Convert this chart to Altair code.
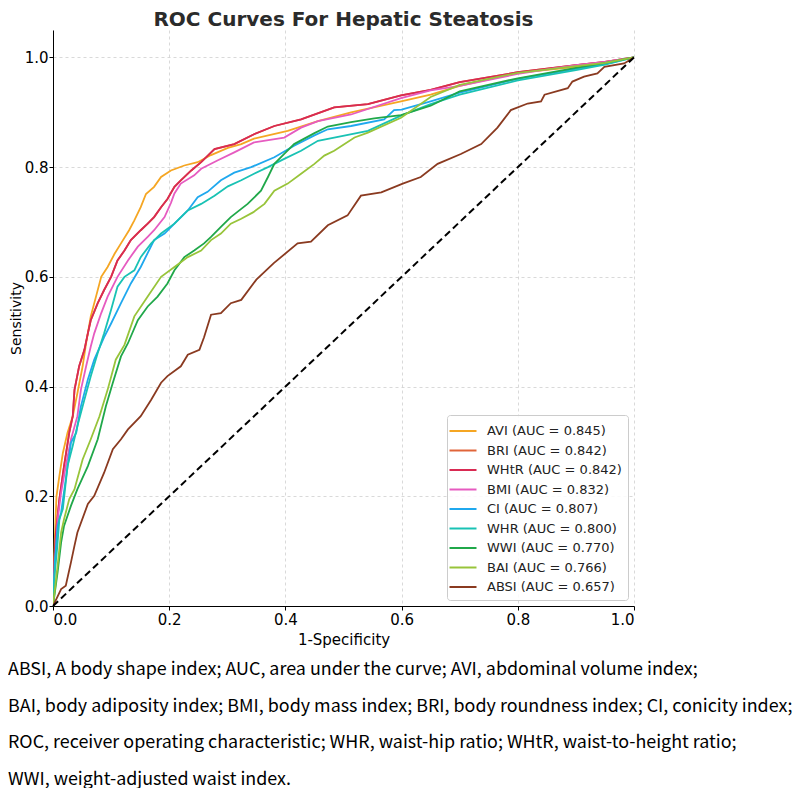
import altair as alt
import pandas as pd

series_names = ["AVI", "BRI", "WHtR", "BMI", "CI", "WHR", "WWI", "BAI", "ABSI"]
auc_values = [0.845, 0.842, 0.842, 0.832, 0.807, 0.800, 0.770, 0.766, 0.657]
series_colors = ["#f5a623", "#e0653a", "#d92a52", "#e65bc0", "#1fa8ee",
                 "#19c2b4", "#20a84a", "#98c43a", "#8a3a20"]

# (1-specificity, sensitivity) points
avi_pts = [(0, 0), (0.003, 0.12), (0.006, 0.20), (0.011, 0.237), (0.017, 0.279), (0.025, 0.316),
           (0.034, 0.346), (0.042, 0.388), (0.051, 0.437), (0.057, 0.479), (0.065, 0.528),
           (0.074, 0.564), (0.083, 0.600), (0.094, 0.618), (0.106, 0.642), (0.117, 0.661),
           (0.131, 0.685), (0.140, 0.703), (0.151, 0.727), (0.160, 0.751), (0.174, 0.764),
           (0.186, 0.782), (0.203, 0.794), (0.226, 0.803), (0.249, 0.809), (0.272, 0.822),
           (0.301, 0.835), (0.324, 0.842), (0.346, 0.852), (0.404, 0.866), (0.456, 0.884),
           (0.513, 0.900), (0.599, 0.920), (0.65, 0.932), (0.70, 0.948), (0.80, 0.972),
           (0.90, 0.983), (0.95, 0.990), (1.0, 1.0)]

whtr_pts = [(0, 0), (0.002, 0.074), (0.005, 0.134), (0.011, 0.195), (0.019, 0.255), (0.028, 0.316),
            (0.034, 0.346), (0.037, 0.394), (0.045, 0.437), (0.054, 0.467), (0.060, 0.497),
            (0.065, 0.521), (0.077, 0.552), (0.088, 0.576), (0.100, 0.600), (0.111, 0.630),
            (0.123, 0.648), (0.134, 0.667), (0.151, 0.685), (0.163, 0.697), (0.174, 0.709),
            (0.186, 0.727), (0.197, 0.742), (0.209, 0.764), (0.220, 0.776), (0.238, 0.794),
            (0.255, 0.809), (0.278, 0.833), (0.312, 0.842), (0.346, 0.860), (0.381, 0.875),
            (0.427, 0.887), (0.484, 0.909), (0.542, 0.915), (0.599, 0.931), (0.65, 0.941),
            (0.70, 0.955), (0.80, 0.973), (0.90, 0.986), (0.95, 0.992), (1.0, 1.0)]

bri_pts = whtr_pts  # BRI curve lies exactly under the WHtR curve

bmi_pts = [(0, 0), (0.002, 0.05), (0.005, 0.098), (0.008, 0.158), (0.014, 0.207), (0.022, 0.255),
           (0.031, 0.304), (0.042, 0.346), (0.048, 0.394), (0.057, 0.437), (0.065, 0.473),
           (0.071, 0.497), (0.083, 0.534), (0.094, 0.564), (0.111, 0.600), (0.129, 0.630),
           (0.146, 0.655), (0.163, 0.673), (0.174, 0.685), (0.192, 0.709), (0.203, 0.735),
           (0.209, 0.752), (0.220, 0.770), (0.243, 0.785), (0.255, 0.797), (0.283, 0.812),
           (0.312, 0.827), (0.346, 0.845), (0.398, 0.854), (0.427, 0.872), (0.456, 0.884),
           (0.513, 0.896), (0.599, 0.926), (0.65, 0.940), (0.70, 0.948), (0.80, 0.970),
           (0.90, 0.986), (0.95, 0.992), (1.0, 1.0)]

ci_pts = [(0, 0), (0.003, 0.08), (0.008, 0.146), (0.014, 0.171), (0.022, 0.231), (0.031, 0.298),
          (0.040, 0.316), (0.048, 0.364), (0.060, 0.413), (0.071, 0.449), (0.088, 0.490),
          (0.100, 0.515), (0.117, 0.552), (0.134, 0.588), (0.151, 0.618), (0.174, 0.667),
          (0.192, 0.679), (0.209, 0.697), (0.232, 0.721), (0.249, 0.745), (0.266, 0.755),
          (0.289, 0.776), (0.312, 0.790), (0.341, 0.800), (0.381, 0.818), (0.415, 0.839),
          (0.450, 0.858), (0.473, 0.869), (0.513, 0.875), (0.570, 0.887), (0.587, 0.904),
          (0.60, 0.905), (0.65, 0.920), (0.70, 0.936), (0.80, 0.961), (0.90, 0.979),
          (0.95, 0.988), (1.0, 1.0)]

whr_pts = [(0, 0), (0.003, 0.06), (0.007, 0.104), (0.011, 0.158), (0.017, 0.177), (0.025, 0.255),
           (0.034, 0.292), (0.042, 0.328), (0.054, 0.376), (0.065, 0.419), (0.077, 0.461),
           (0.088, 0.497), (0.100, 0.540), (0.111, 0.582), (0.123, 0.600), (0.140, 0.612),
           (0.151, 0.636), (0.169, 0.661), (0.186, 0.679), (0.209, 0.697), (0.232, 0.721),
           (0.255, 0.733), (0.278, 0.748), (0.301, 0.765), (0.324, 0.776), (0.346, 0.788),
           (0.370, 0.800), (0.398, 0.815), (0.427, 0.830), (0.456, 0.848), (0.484, 0.854),
           (0.542, 0.866), (0.599, 0.894), (0.65, 0.915), (0.70, 0.932), (0.80, 0.958),
           (0.90, 0.977), (0.95, 0.987), (1.0, 1.0)]

wwi_pts = [(0, 0), (0.008, 0.062), (0.014, 0.116), (0.019, 0.146), (0.031, 0.183), (0.042, 0.213),
           (0.060, 0.255), (0.077, 0.304), (0.091, 0.364), (0.103, 0.407), (0.117, 0.455),
           (0.129, 0.479), (0.146, 0.521), (0.163, 0.546), (0.180, 0.564), (0.197, 0.588),
           (0.209, 0.612), (0.226, 0.636), (0.243, 0.648), (0.260, 0.661), (0.272, 0.673),
           (0.289, 0.691), (0.306, 0.709), (0.324, 0.724), (0.335, 0.733), (0.358, 0.757),
           (0.370, 0.782), (0.381, 0.806), (0.398, 0.824), (0.415, 0.842), (0.450, 0.862),
           (0.473, 0.874), (0.513, 0.882), (0.553, 0.889), (0.599, 0.895), (0.65, 0.912),
           (0.70, 0.938), (0.80, 0.962), (0.90, 0.981), (0.95, 0.990), (1.0, 1.0)]

bai_pts = [(0, 0), (0.008, 0.074), (0.014, 0.134), (0.019, 0.158), (0.028, 0.195), (0.037, 0.213),
           (0.051, 0.267), (0.065, 0.304), (0.080, 0.346), (0.094, 0.394), (0.108, 0.449),
           (0.123, 0.476), (0.140, 0.528), (0.163, 0.564), (0.186, 0.600), (0.209, 0.618),
           (0.232, 0.636), (0.255, 0.648), (0.272, 0.667), (0.289, 0.679), (0.306, 0.697),
           (0.324, 0.706), (0.345, 0.718), (0.364, 0.733), (0.381, 0.757), (0.404, 0.770),
           (0.427, 0.788), (0.450, 0.806), (0.467, 0.821), (0.484, 0.830), (0.519, 0.854),
           (0.542, 0.863), (0.599, 0.890), (0.65, 0.928), (0.70, 0.950), (0.80, 0.972),
           (0.90, 0.984), (0.95, 0.990), (1.0, 1.0)]

absi_pts = [(0, 0), (0.014, 0.031), (0.022, 0.037), (0.031, 0.080), (0.037, 0.110), (0.042, 0.134),
            (0.060, 0.186), (0.071, 0.201), (0.088, 0.243), (0.103, 0.286), (0.117, 0.304),
            (0.129, 0.322), (0.151, 0.346), (0.169, 0.376), (0.186, 0.407), (0.197, 0.419),
            (0.220, 0.437), (0.232, 0.458), (0.252, 0.467), (0.260, 0.490), (0.272, 0.531),
            (0.289, 0.534), (0.306, 0.552), (0.324, 0.558), (0.35, 0.595), (0.38, 0.625),
            (0.421, 0.661), (0.444, 0.664), (0.473, 0.694), (0.507, 0.712), (0.530, 0.748),
            (0.565, 0.754), (0.602, 0.770), (0.633, 0.782), (0.662, 0.806), (0.702, 0.824),
            (0.737, 0.842), (0.765, 0.872), (0.788, 0.904), (0.817, 0.916), (0.840, 0.920),
            (0.846, 0.932), (0.886, 0.944), (0.894, 0.956), (0.914, 0.965), (0.937, 0.971),
            (0.949, 0.983), (0.983, 0.989), (1.0, 1.0)]

chance_pts = [(0, 0), (1, 1)]

x_ticks = [0.0, 0.2, 0.4, 0.6, 0.8, 1.0]
y_ticks = [0.0, 0.2, 0.4, 0.6, 0.8, 1.0]

caption_lines = [
    "ABSI, A body shape index; AUC, area under the curve; AVI, abdominal volume index;",
    "BAI, body adiposity index; BMI, body mass index; BRI, body roundness index; CI, conicity index;",
    "ROC, receiver operating characteristic; WHR, waist-hip ratio; WHtR, waist-to-height ratio;",
    "WWI, weight-adjusted waist index.",
]

all_pts = [avi_pts, bri_pts, whtr_pts, bmi_pts, ci_pts, whr_pts, wwi_pts, bai_pts, absi_pts]
labels = [f"{n} (AUC = {a:.3f})" for n, a in zip(series_names, auc_values)]

rows = []
for lab, pts in zip(labels, all_pts):
    for i, (fx, ty) in enumerate(pts):
        rows.append({"label": lab, "fpr": fx, "tpr": ty, "idx": i})
df = pd.DataFrame(rows)
diag_df = pd.DataFrame([{"fpr": a, "tpr": b} for a, b in chance_pts])
caption_df = pd.DataFrame([{"caption": "\n".join(caption_lines)}])

tick_font = "DejaVu Sans"
cap_font = "Noto Sans CJK SC"
PW, PH = 581, 576

x_enc = alt.X("fpr:Q", scale=alt.Scale(domain=[0, 1], nice=False, zero=False),
              axis=alt.Axis(values=x_ticks, format=".1f", title="1-Specificity",
                            labelFontSize=15, titleFontSize=15, titleFontWeight="normal",
                            labelFont=tick_font, titleFont=tick_font,
                            domainColor="black", tickColor="black", tickSize=4,
                            labelColor="black", titleColor="black", labelPadding=2,
                            titlePadding=5,
                            grid=True, gridDash=[3, 3], gridColor="#cfcfcf", gridWidth=0.8))
y_enc = alt.Y("tpr:Q", scale=alt.Scale(domain=[0, 1.05], nice=False, zero=False),
              axis=alt.Axis(values=y_ticks, format=".1f", title="Sensitivity",
                            labelFontSize=15, titleFontSize=14, titleFontWeight="normal",
                            labelFont=tick_font, titleFont=tick_font,
                            domainColor="black", tickColor="black", tickSize=4,
                            labelColor="black", titleColor="black", labelPadding=1,
                            titlePadding=1,
                            grid=True, gridDash=[3, 3], gridColor="#cfcfcf", gridWidth=0.8))

color_enc = alt.Color("label:N",
                      scale=alt.Scale(domain=labels, range=series_colors),
                      sort=labels,
                      legend=alt.Legend(title=None, orient="bottom-right", offset=6,
                                        symbolType="M-1.5,0H1.5", symbolSize=324,
                                        symbolStrokeWidth=2, symbolFillColor="transparent",
                                        labelFontSize=13, labelFont=tick_font, labelColor="#222222",
                                        labelOffset=14, rowPadding=2.5,
                                        fillColor="rgba(255,255,255,0.85)", strokeColor="#cccccc",
                                        cornerRadius=3, padding=6))

layers = []
for lab in labels:
    layers.append(
        alt.Chart(df).transform_filter(alt.datum.label == lab)
        .mark_line(strokeWidth=1.8, clip=True)
        .encode(x=x_enc, y=y_enc, order="idx:Q", color=color_enc)
    )

diag = alt.Chart(diag_df).mark_line(color="black", strokeDash=[7, 4], strokeWidth=2).encode(
    x=alt.X("fpr:Q"), y=alt.Y("tpr:Q"))

caption = alt.Chart(caption_df).mark_text(
    align="left", baseline="top", font=cap_font, fontSize=17.9, lineHeight=36.5,
    lineBreak="\n", color="black"
).encode(text="caption:N", x=alt.value(-45), y=alt.value(PH + 55))

chart = alt.layer(*layers, diag, caption).properties(
    width=PW, height=PH,
    title=alt.TitleParams("ROC Curves For Hepatic Steatosis", fontSize=20, fontWeight="bold",
                          font=tick_font, color="#2b2b2b", anchor="middle", offset=0),
    padding={"left": 0, "top": 2, "right": 0, "bottom": 0},
).configure_view(stroke=None)

chart.save("out.html", embed_options={"renderer": "svg", "actions": False})
